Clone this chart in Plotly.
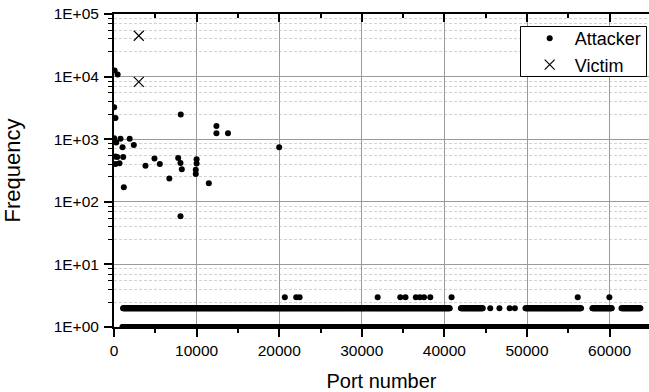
import numpy as np
import plotly.graph_objects as go

# Attacker ports with notable (high) request counts
attacker_ports = [80, 443, 22, 180, 8080, 12400, 12400, 13800, 20000,
                  21, 270, 790, 1030, 1900, 2400,
                  180, 390, 1110, 180, 670,
                  3810, 4900, 5550, 6700, 7770, 8050, 8210,
                  10000, 10000, 9900, 9900, 1190, 8050, 11480]
attacker_freq = [12500, 10800, 3250, 2190, 2480, 1630, 1250, 1250, 745,
                 1040, 885, 1020, 745, 1020, 810,
                 527, 520, 520, 403, 413,
                 378, 490, 403, 235, 502, 418, 331,
                 480, 410, 326, 279, 171, 59, 198]

# Ports seen three times
ports_freq3 = [20680, 22060, 22470, 31920, 34660, 35290, 36540, 37040,
               37540, 38290, 40870, 56140, 59970]

# Contiguous port ranges seen twice, plus isolated ports seen twice
runs_freq2 = [(1100, 40680), (42000, 44660), (49820, 56560),
              (57920, 60300), (61440, 63740)]
single_freq2 = [45550, 46660, 47900, 48530]

# Contiguous port range seen once
runs_freq1 = [(1024, 65535)]

# Victim side
victim_ports = [3000, 3000]
victim_freq = [45000, 8260]

RUN_STEP = 60


def expand(runs):
    out = []
    for a, b in runs:
        out.extend(np.arange(a, b + 1, RUN_STEP).tolist())
    return out


p2 = expand(runs_freq2) + single_freq2
p1 = expand(runs_freq1)

xs = attacker_ports + ports_freq3 + p2 + p1
ys = attacker_freq + [3] * len(ports_freq3) + [2] * len(p2) + [1] * len(p1)

FONT = "Liberation Sans, Arial, sans-serif"
MAJOR_GRID = "#9a9a9a"
MINOR_GRID = "#d2d2d2"

fig = go.Figure()
fig.add_trace(go.Scatter(
    x=xs, y=ys, mode="markers", name="Attacker",
    marker=dict(symbol="circle", size=6, color="black", line=dict(width=0)),
))
fig.add_trace(go.Scatter(
    x=victim_ports, y=victim_freq, mode="markers", name="Victim",
    marker=dict(symbol="x-thin", size=10, color="black",
                line=dict(width=1.2, color="black")),
))
# carrier for the top axis
fig.add_trace(go.Scatter(x=[None], y=[None], xaxis="x2", showlegend=False,
                         hoverinfo="skip"))

x_max = 64770
x_ticks = [0, 10000, 20000, 30000, 40000, 50000, 60000]
decades = [0, 1, 2, 3, 4, 5]
ytick_vals = [10 ** d for d in decades]
ytick_text = ["1E+0%d" % d for d in decades]
minor_mult = [2.5, 4, 5.5, 7, 8.5]
yminor_vals = [m * 10 ** d for d in decades[:-1] for m in minor_mult]

# legend frame (paper coordinates of the plot area)
PLOT_L, PLOT_W, PLOT_B, PLOT_H = 114, 535, 327, 313


def px_x(p):
    return (p - PLOT_L) / PLOT_W


def px_y(p):
    return (PLOT_B - p) / PLOT_H


fig.add_shape(type="rect", xref="paper", yref="paper",
              x0=px_x(520.5), x1=px_x(646.5), y0=px_y(76.5), y1=px_y(26.5),
              line=dict(color="black", width=1), fillcolor="white",
              layer="above")

fig.update_layout(
    width=649, height=392,
    margin=dict(l=114, r=0, t=14, b=65),
    paper_bgcolor="white", plot_bgcolor="white",
    font=dict(family=FONT, color="black", size=15.5),
    showlegend=True,
    legend=dict(
        x=0.9957, xanchor="right", y=px_y(20.0), yanchor="top",
        bgcolor="rgba(0,0,0,0)", borderwidth=0,
        font=dict(family=FONT, size=18, color="black"),
        itemwidth=40, tracegroupgap=0,
    ),
    xaxis=dict(
        range=[0, x_max], tickmode="array", tickvals=x_ticks,
        tickformat="d",
        showline=True, linecolor="black", linewidth=2,
        ticks="outside", ticklen=8, tickwidth=1.5, tickcolor="black",
        showgrid=True, gridcolor=MAJOR_GRID, gridwidth=1.2,
        zeroline=False,
        minor=dict(tickmode="linear", tick0=5000, dtick=10000,
                   ticks="outside", ticklen=4, tickwidth=1.5,
                   tickcolor="black", showgrid=False),
        title=dict(text="Port number", font=dict(family=FONT, size=20),
                   standoff=18),
        tickfont=dict(family=FONT, size=15.5),
    ),
    xaxis2=dict(
        overlaying="x", side="top", range=[0, x_max], tickmode="array",
        tickvals=x_ticks,
        showline=True, linecolor="black", linewidth=2,
        ticks="inside", ticklen=8, tickwidth=1.5, tickcolor="black",
        showticklabels=False, showgrid=False, zeroline=False,
        minor=dict(tickmode="linear", tick0=5000, dtick=10000,
                   ticks="inside", ticklen=4, tickwidth=1.5,
                   tickcolor="black", showgrid=False),
    ),
    yaxis=dict(
        type="log", range=[0, 5], tickmode="array",
        tickvals=ytick_vals, ticktext=ytick_text,
        showline=True, linecolor="black", linewidth=2,
        ticks="outside", ticklen=8, tickwidth=1.5, tickcolor="black",
        showgrid=True, gridcolor=MAJOR_GRID, gridwidth=1.2,
        zeroline=False,
        minor=dict(tickmode="array", tickvals=yminor_vals,
                   ticks="outside", ticklen=4, tickwidth=1.2,
                   tickcolor="black", showgrid=True,
                   gridcolor=MINOR_GRID, griddash="3px,2px", gridwidth=1),
        title=dict(text="Frequency", font=dict(family=FONT, size=22),
                   standoff=30),
        tickfont=dict(family=FONT, size=15.5),
        ticklabelstandoff=2,
    ),
)

fig.write_html("out.html")
